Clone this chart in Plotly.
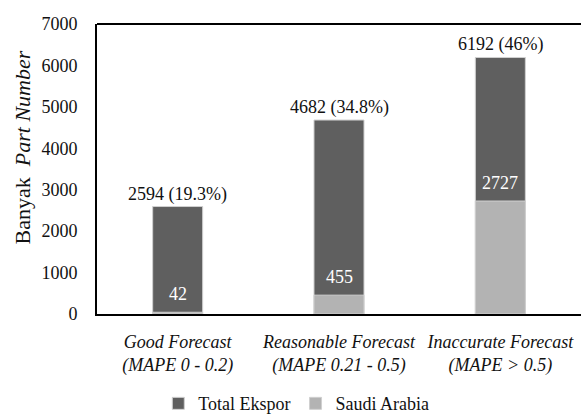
import plotly.graph_objects as go

categories = ["<i>Good Forecast</i><br><i>(MAPE 0 - 0.2)</i>",
              "<i>Reasonable Forecast</i><br><i>(MAPE 0.21 - 0.5)</i>",
              "<i>Inaccurate Forecast</i><br><i>(MAPE > 0.5)</i>"]
total_ekspor = [2594, 4682, 6192]
total_pct = ["19.3%", "34.8%", "46%"]
saudi_arabia = [42, 455, 2727]
y_title = "Banyak  <i>Part Number</i>"

FONT = "'Times New Roman', 'Liberation Serif', serif"
DARK = "#5f5f5f"
LIGHT = "#b3b3b3"

fig = go.Figure()
fig.add_trace(go.Bar(x=categories, y=total_ekspor, name="Total Ekspor",
                     marker=dict(color=DARK, line=dict(color="#d0d0d0", width=1)),
                     width=0.31))
fig.add_trace(go.Bar(x=categories, y=saudi_arabia, name="Saudi Arabia",
                     marker=dict(color=LIGHT, line=dict(color="#d0d0d0", width=1)),
                     width=0.31))

annotations = []
for c, v, p in zip(categories, total_ekspor, total_pct):
    annotations.append(dict(x=c, y=v, text=f"{v} ({p})", showarrow=False,
                            yanchor="bottom", yshift=0,
                            font=dict(family=FONT, size=18, color="#111111")))
for c, v in zip(categories, saudi_arabia):
    annotations.append(dict(x=c, y=v, text=str(v), showarrow=False,
                            yanchor="bottom", yshift=6,
                            font=dict(family=FONT, size=18, color="white")))
# y-axis title as rotated annotation
annotations.append(dict(text=y_title, textangle=-90, showarrow=False,
                        xref="paper", yref="paper", x=-0.152, y=0.576,
                        xanchor="center", yanchor="middle",
                        font=dict(family=FONT, size=22, color="#111111")))

fig.update_layout(
    width=581, height=417,
    barmode="overlay",
    plot_bgcolor="white", paper_bgcolor="white",
    margin=dict(l=97, r=0, t=24, b=103, autoexpand=False),
    font=dict(family=FONT, size=17, color="#111111"),
    annotations=annotations,
    showlegend=True,
    legend=dict(orientation="h", x=0.51, xanchor="center", y=0.032, yanchor="middle",
                xref="container", yref="container",
                font=dict(family=FONT, size=18), itemwidth=30, traceorder="normal"),
    xaxis=dict(showline=True, linecolor="black", linewidth=2, mirror=False,
               tickfont=dict(family=FONT, size=18), ticks="", automargin=False,
               ticklabelstandoff=10),
    yaxis=dict(range=[0, 7000], dtick=1000, showgrid=False, zeroline=False,
               showline=True, linecolor="black", linewidth=2, automargin=False,
               ticks="", ticklen=0, ticklabelstandoff=14,
               tickfont=dict(family=FONT, size=18)),
)
fig.add_shape(type="line", xref="paper", yref="paper", x0=0, x1=1, y0=1, y1=1,
              line=dict(color="black", width=2))

fig.write_html("out.html")
